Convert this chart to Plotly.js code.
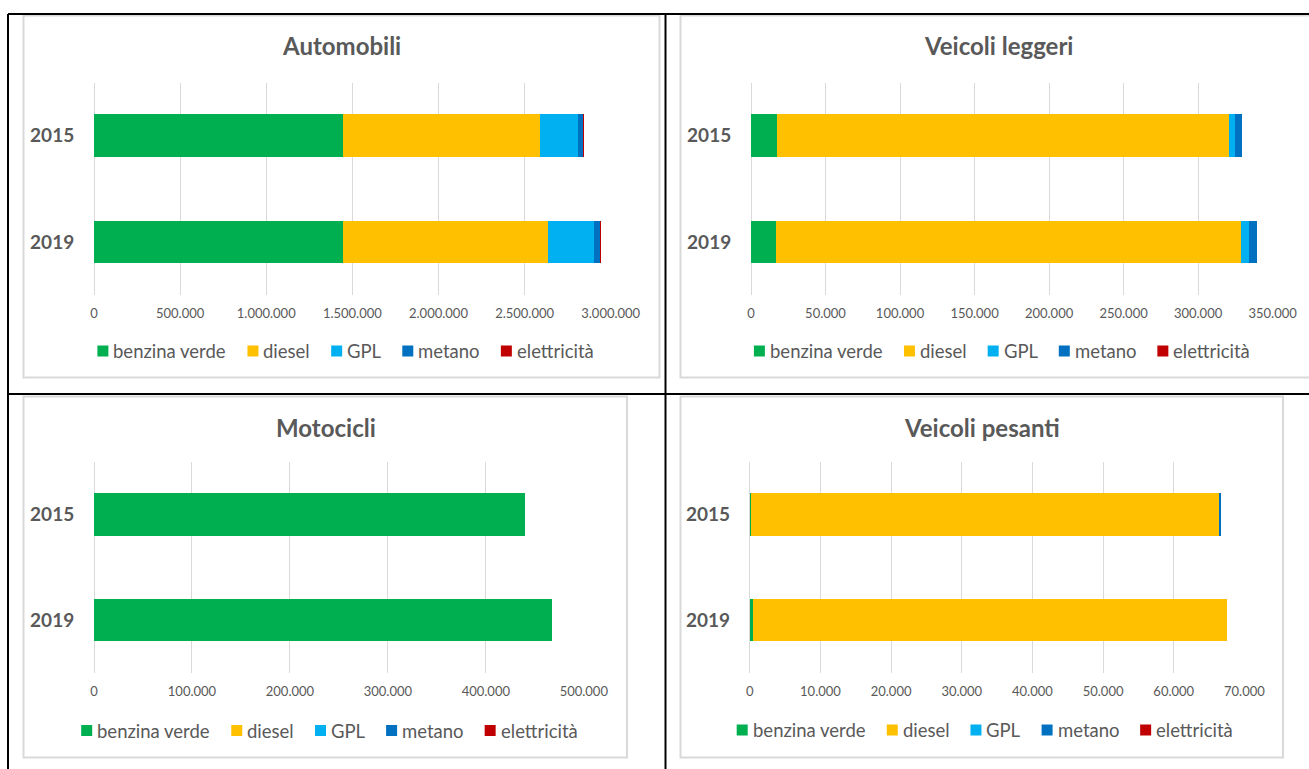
<!DOCTYPE html>
<html>
<head>
<meta charset="utf-8">
<script src="https://cdn.plot.ly/plotly-3.0.1.min.js"></script>
<style>
html,body{margin:0;padding:0;background:#fff;}
#chart{width:1309px;height:769px;}
</style>
</head>
<body>
<div id="chart"></div>
<script>
// ---------- DATA ----------
const categories = ['2015', '2019'];
const seriesNames = ['benzina verde', 'diesel', 'GPL', 'metano', 'elettricità'];
const seriesColors = ['#00B050', '#FFC000', '#00B0F0', '#0070C0', '#C00000'];

// Automobili
const autoBenzina = [1446000, 1446000];
const autoDiesel = [1144000, 1190000];
const autoGPL = [221000, 267000];
const autoMetano = [31000, 35000];
const autoElettricita = [1000, 5000];

// Veicoli leggeri
const leggeriBenzina = [17500, 17000];
const leggeriDiesel = [303000, 311500];
const leggeriGPL = [4200, 5400];
const leggeriMetano = [4900, 5800];
const leggeriElettricita = [0, 0];

// Motocicli
const motoBenzina = [440000, 468000];
const motoDiesel = [0, 0];
const motoGPL = [0, 0];
const motoMetano = [0, 0];
const motoElettricita = [0, 0];

// Veicoli pesanti
const pesantiBenzina = [200, 410];
const pesantiDiesel = [66180, 67070];
const pesantiGPL = [10, 10];
const pesantiMetano = [350, 30];
const pesantiElettricita = [0, 0];

// ---------- LAYOUT HELPERS ----------
const W = 1309, H = 769;
const px = x => x / W;
const py = y => 1 - y / H;
const FONT = 'Lato, "Open Sans", sans-serif';
const GREY = '#595959';

const panels = [
  { title: 'Automobili', values: [autoBenzina, autoDiesel, autoGPL, autoMetano, autoElettricita],
    xmax: 3000000, dtick: 500000, plot: [94, 610.7, 82.5, 295], titleXY: [341.5, 46], legend: [345.5, 351] },
  { title: 'Veicoli leggeri', values: [leggeriBenzina, leggeriDiesel, leggeriGPL, leggeriMetano, leggeriElettricita],
    xmax: 350000, dtick: 50000, plot: [751, 1272.6, 82.5, 295], titleXY: [998, 46], legend: [1002, 351] },
  { title: 'Motocicli', values: [motoBenzina, motoDiesel, motoGPL, motoMetano, motoElettricita],
    xmax: 500000, dtick: 100000, plot: [94, 583.8, 461.7, 673], titleXY: [326, 427], legend: [329.3, 730.5] },
  { title: 'Veicoli pesanti', values: [pesantiBenzina, pesantiDiesel, pesantiGPL, pesantiMetano, pesantiElettricita],
    xmax: 70000, dtick: 10000, plot: [749.8, 1244.4, 461.7, 673], titleXY: [982, 427], legend: [984.8, 730] }
];

const traces = [];
const layout = {
  width: W, height: H,
  margin: { l: 0, r: 0, t: 0, b: 0 },
  paper_bgcolor: '#ffffff', plot_bgcolor: '#ffffff',
  barmode: 'stack', bargap: 0.6,
  separators: ',.',
  showlegend: false,
  font: { family: FONT, color: GREY },
  shapes: [], annotations: []
};

// canvas text measure for legend
const cnv = document.createElement('canvas');
const ctx = cnv.getContext('2d');
const LEG_SIZE = 18.5;
ctx.font = LEG_SIZE + 'px Lato';

panels.forEach((p, i) => {
  const n = i === 0 ? '' : String(i + 1);
  const xa = 'xaxis' + n, ya = 'yaxis' + n;
  const [x0, x1, y0, y1] = p.plot;
  layout[xa] = {
    domain: [px(x0), px(x1)], anchor: 'y' + n,
    range: [0, p.xmax], dtick: p.dtick, tick0: 0, tickformat: ',d',
    showgrid: true, gridcolor: '#d9d9d9', gridwidth: 1,
    zeroline: true, zerolinecolor: '#d9d9d9', zerolinewidth: 1,
    showline: false, ticks: 'outside', ticklen: 6, tickcolor: 'rgba(0,0,0,0)',
    tickfont: { family: FONT, size: 13, color: GREY }, fixedrange: true
  };
  layout[ya] = {
    domain: [py(y1), py(y0)], anchor: 'x' + n,
    type: 'category', categoryorder: 'array', categoryarray: categories,
    autorange: 'reversed', showgrid: false, zeroline: false, showline: false,
    ticks: 'outside', ticklen: 15, tickcolor: 'rgba(0,0,0,0)',
    tickfont: { family: FONT, size: 19, color: GREY, weight: 'bold' }, fixedrange: true
  };
  seriesNames.forEach((name, k) => {
    traces.push({
      type: 'bar', orientation: 'h', name: name,
      y: categories, x: p.values[k],
      xaxis: 'x' + n, yaxis: 'y' + n,
      marker: { color: seriesColors[k], line: { width: 0 } },
      hoverinfo: 'x+name'
    });
  });
  // title
  layout.annotations.push({
    xref: 'paper', yref: 'paper', x: px(p.titleXY[0]), y: py(p.titleXY[1]),
    xanchor: 'center', yanchor: 'middle', showarrow: false,
    text: p.title, font: { family: FONT, size: 24, color: GREY, weight: 'bold' }
  });
  // custom legend
  const widths = seriesNames.map(s => ctx.measureText(s).width);
  const SQ = 11, GAP = 5, ITEMGAP = 21;
  const total = widths.reduce((a, w) => a + SQ + GAP + w, 0) + ITEMGAP * (seriesNames.length - 1);
  let cur = p.legend[0] - total / 2;
  const ly = p.legend[1];
  seriesNames.forEach((s, k) => {
    layout.shapes.push({
      type: 'rect', xref: 'paper', yref: 'paper',
      x0: px(cur), x1: px(cur + SQ), y0: py(ly + SQ / 2), y1: py(ly - SQ / 2),
      fillcolor: seriesColors[k], line: { width: 0 }
    });
    layout.annotations.push({
      xref: 'paper', yref: 'paper', x: px(cur + SQ + GAP), y: py(ly),
      xanchor: 'left', yanchor: 'middle', showarrow: false, borderpad: 0, borderwidth: 0,
      text: s, font: { family: FONT, size: LEG_SIZE, color: GREY }
    });
    cur += SQ + GAP + widths[k] + ITEMGAP;
  });
});

// chart frames (light grey)
const frames = [
  [23.5, 659.5, 15.5, 377.5],
  [680.5, 1330, 15.5, 377.5],
  [23.5, 627, 396.5, 757.5],
  [680.5, 1283, 396.5, 757.5]
];
frames.forEach(f => {
  layout.shapes.push({
    type: 'rect', xref: 'paper', yref: 'paper',
    x0: px(f[0]), x1: px(f[1]), y0: py(f[3]), y1: py(f[2]),
    line: { color: '#d9d9d9', width: 2 }, fillcolor: 'rgba(0,0,0,0)'
  });
});
// table borders (black)
const borders = [
  [8, 14, 1312, 14],
  [8, 14, 8, 772],
  [665.5, 14, 665.5, 772],
  [8, 394, 1312, 394]
];
borders.forEach(b => {
  layout.shapes.push({
    type: 'line', xref: 'paper', yref: 'paper',
    x0: px(b[0]), y0: py(b[1]), x1: px(b[2]), y1: py(b[3]),
    line: { color: '#000000', width: 2 }
  });
});

Plotly.newPlot('chart', traces, layout, { displayModeBar: false, staticPlot: true });
</script>
</body>
</html>
